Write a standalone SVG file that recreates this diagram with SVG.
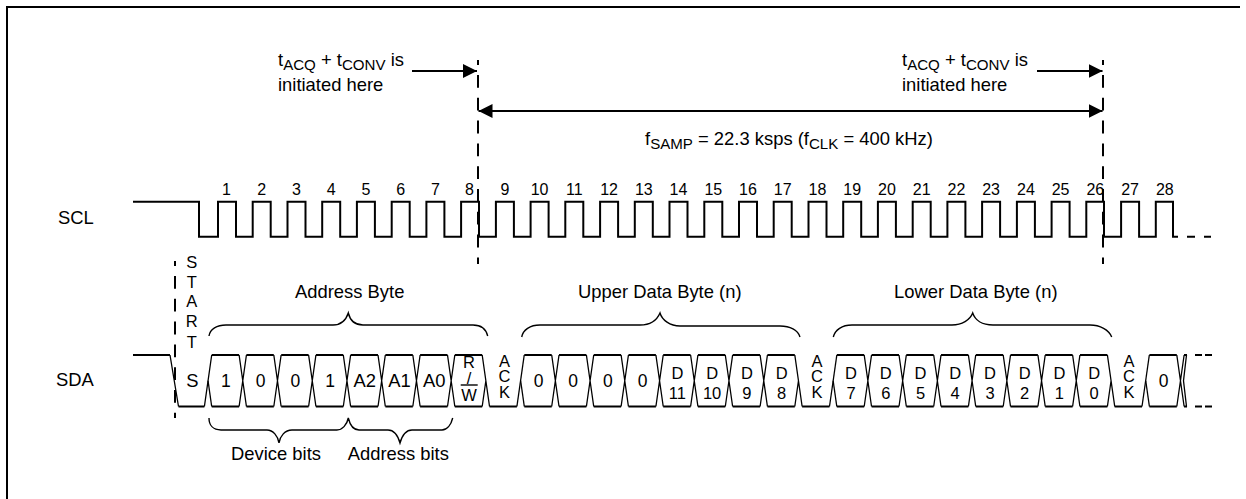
<svg xmlns="http://www.w3.org/2000/svg" width="1246" height="499" viewBox="0 0 1246 499">
<style>
text{font-family:"Liberation Sans",Arial,sans-serif;font-size:18.4px;fill:#000}
.m{text-anchor:middle}
.n{font-size:16px}
.l{font-size:16.5px}
.c{font-size:17.5px}
.w{fill:none;stroke:#000;stroke-width:2}
.t{fill:none;stroke:#000;stroke-width:1.3}
.b{fill:none;stroke:#000;stroke-width:1.4}
.d{fill:none;stroke:#000;stroke-width:2;stroke-dasharray:12.8 10;stroke-dashoffset:7.8}
.sub{font-size:15.1px}
</style>
<defs>
<marker id="ah" markerUnits="userSpaceOnUse" markerWidth="14" markerHeight="14" refX="14" refY="7" orient="auto-start-reverse"><path d="M0 0L14 7L0 14Z" fill="#000"/></marker>
<g id="cell"><path class="w" d="M0 0H27.4M0 51.5H27.4"/><path class="t" d="M27.4 0l7.33 51.5M27.4 51.5l7.33 -51.5"/></g>
<g id="cellEnd"><path class="w" d="M0 0H27.4M0 51.5H27.4"/><path class="t" d="M27.4 0l7.33 51.5M27.4 51.5l3.66 -25.75"/></g>
<path id="cellStart" class="t" d="M-3.66 25.75L0 51.5"/>
<g id="ack"><path class="w" d="M0 51.5H27.4"/><path class="t" d="M27.4 51.5l7.33 -51.5"/></g>
</defs>
<path id="frame" d="M1240 7H7V499" fill="none" stroke="#000" stroke-width="2"/>
<g id="connectors">
<path class="d" d="M478 60V264"/>
<path class="d" d="M1103 60V264"/>
<path class="d" d="M175 261V418"/>
<path class="w" d="M412 71H477" marker-end="url(#ah)"/>
<path class="w" d="M1037 71H1102.5" marker-end="url(#ah)"/>
<path class="w" d="M478.5 111H1102.5" marker-start="url(#ah)" marker-end="url(#ah)"/>
</g>
<g id="labels-top">
<text x="278" y="66">t<tspan class="sub" dy="4">ACQ</tspan><tspan dy="-4"> + t</tspan><tspan class="sub" dy="4">CONV</tspan><tspan dy="-4"> is</tspan></text>
<text x="278" y="90.5">initiated here</text>
<text x="902" y="66">t<tspan class="sub" dy="4">ACQ</tspan><tspan dy="-4"> + t</tspan><tspan class="sub" dy="4">CONV</tspan><tspan dy="-4"> is</tspan></text>
<text x="902" y="90.5">initiated here</text>
<text x="645" y="144.5">f<tspan class="sub" dy="4">SAMP</tspan><tspan dy="-4"> = 22.3 ksps (f</tspan><tspan class="sub" dy="4">CLK</tspan><tspan dy="-4"> = 400 kHz)</tspan></text>
</g>
<g id="scl">
<text x="58" y="224">SCL</text>
<path class="w" d="M133 201.7H199V236.7H218V201.7H236V236.7H252.7V201.7H270.7V236.7H287.5V201.7H305.5V236.7H322.2V201.7H340.2V236.7H356.9V201.7H374.9V236.7H391.7V201.7H409.7V236.7H426.4V201.7H444.4V236.7H461.1V201.7H479V236.7H495.9V201.7H513.9V236.7H530.6V201.7H548.6V236.7H565.3V201.7H583.3V236.7H600.1V201.7H618.1V236.7H634.8V201.7H652.8V236.7H669.5V201.7H687.5V236.7H704.3V201.7H722.3V236.7H739V201.7H757V236.7H773.7V201.7H791.7V236.7H808.5V201.7H826.5V236.7H843.2V201.7H861.2V236.7H877.9V201.7H895.9V236.7H912.7V201.7H930.7V236.7H947.4V201.7H965.4V236.7H982.1V201.7H1000.1V236.7H1016.9V201.7H1034.9V236.7H1051.6V201.7H1069.6V236.7H1086.3V201.7H1104V236.7H1121.1V201.7H1139.1V236.7H1155.8V201.7H1173V236.7H1178"/>
<path class="w" d="M1187 236.7H1195M1204 236.7H1211"/>
<text class="m n" x="226.5" y="195">1</text><text class="m n" x="261.7" y="195">2</text><text class="m n" x="296.5" y="195">3</text><text class="m n" x="331.2" y="195">4</text><text class="m n" x="365.9" y="195">5</text><text class="m n" x="400.7" y="195">6</text><text class="m n" x="435.4" y="195">7</text><text class="m n" x="469.5" y="195">8</text><text class="m n" x="504.9" y="195">9</text><text class="m n" x="539.6" y="195">10</text><text class="m n" x="574.3" y="195">11</text><text class="m n" x="609.1" y="195">12</text><text class="m n" x="643.8" y="195">13</text><text class="m n" x="678.5" y="195">14</text><text class="m n" x="713.3" y="195">15</text><text class="m n" x="748" y="195">16</text><text class="m n" x="782.7" y="195">17</text><text class="m n" x="817.5" y="195">18</text><text class="m n" x="852.2" y="195">19</text><text class="m n" x="886.9" y="195">20</text><text class="m n" x="921.7" y="195">21</text><text class="m n" x="956.4" y="195">22</text><text class="m n" x="991.1" y="195">23</text><text class="m n" x="1025.9" y="195">24</text><text class="m n" x="1060.6" y="195">25</text><text class="m n" x="1095.3" y="195">26</text><text class="m n" x="1130.1" y="195">27</text><text class="m n" x="1164.8" y="195">28</text>
</g>
<g id="start">
<text class="m l" x="191.7" y="268">S</text><text class="m l" x="191.7" y="287.5">T</text><text class="m l" x="191.7" y="307">A</text><text class="m l" x="191.7" y="327">R</text><text class="m l" x="191.7" y="347.5">T</text>
</g>
<g id="sda">
<text x="56" y="386">SDA</text>
<path class="w" d="M133 355H170M178.5 406.5H204.4"/>
<path class="t" d="M170 355L178.5 406.5M204.4 406.5L211.7 355"/>
<use href="#cellStart" x="211.7" y="355"/>
<use href="#cell" x="211.7" y="355"/><use href="#cell" x="246.4" y="355"/><use href="#cell" x="281.2" y="355"/><use href="#cell" x="315.9" y="355"/><use href="#cell" x="350.6" y="355"/><use href="#cell" x="385.4" y="355"/><use href="#cell" x="420.1" y="355"/><use href="#cellEnd" x="454.8" y="355"/>
<use href="#ack" x="489.5" y="355"/>
<use href="#cellStart" x="524.3" y="355"/>
<use href="#cell" x="524.3" y="355"/><use href="#cell" x="559" y="355"/><use href="#cell" x="593.7" y="355"/><use href="#cell" x="628.5" y="355"/><use href="#cell" x="663.2" y="355"/><use href="#cell" x="697.9" y="355"/><use href="#cell" x="732.7" y="355"/><use href="#cellEnd" x="767.4" y="355"/>
<use href="#ack" x="802.1" y="355"/>
<use href="#cellStart" x="836.8" y="355"/>
<use href="#cell" x="836.8" y="355"/><use href="#cell" x="871.6" y="355"/><use href="#cell" x="906.3" y="355"/><use href="#cell" x="941" y="355"/><use href="#cell" x="975.8" y="355"/><use href="#cell" x="1010.5" y="355"/><use href="#cell" x="1045.2" y="355"/><use href="#cellEnd" x="1080" y="355"/>
<use href="#ack" x="1114.6" y="355"/>
<use href="#cellStart" x="1149.4" y="355"/>
<use href="#cell" x="1149.4" y="355"/>
<path class="t" d="M1186.5 355L1183.5 380.75L1186.5 406.5"/>
<path class="w" d="M1184 355H1187M1184 406.5H1187M1195 355H1202M1205 355H1212M1195 406.5H1202M1205 406.5H1212"/>
<path class="b" d="M460.7 385H477.7"/>
<text class="m" x="192.3" y="386.5">S</text>
<text class="m c" x="225.9" y="387">1</text><text class="m c" x="260.6" y="387">0</text><text class="m c" x="295.4" y="387">0</text><text class="m c" x="330.1" y="387">1</text>
<text class="m" x="364.8" y="387">A2</text><text class="m" x="399.6" y="387">A1</text><text class="m" x="434.3" y="387">A0</text>
<text class="m l" x="469" y="368">R</text><text class="m l" x="469" y="384">/</text><text class="m l" x="469" y="400.5">W</text>
<text class="m l" x="504.5" y="366.5">A</text><text class="m l" x="504.5" y="382">C</text><text class="m l" x="504.5" y="398">K</text>
<text class="m c" x="538.5" y="387">0</text><text class="m c" x="573.2" y="387">0</text><text class="m c" x="607.9" y="387">0</text><text class="m c" x="642.7" y="387">0</text>
<text class="m l" x="677.4" y="378.5">D</text><text class="m l" x="677.4" y="398.5">11</text>
<text class="m l" x="712.1" y="378.5">D</text><text class="m l" x="712.1" y="398.5">10</text>
<text class="m l" x="746.9" y="378.5">D</text><text class="m l" x="746.9" y="398.5">9</text>
<text class="m l" x="781.6" y="378.5">D</text><text class="m l" x="781.6" y="398.5">8</text>
<text class="m l" x="817" y="366.5">A</text><text class="m l" x="817" y="382">C</text><text class="m l" x="817" y="398">K</text>
<text class="m l" x="851" y="378.5">D</text><text class="m l" x="851" y="398.5">7</text>
<text class="m l" x="885.8" y="378.5">D</text><text class="m l" x="885.8" y="398.5">6</text>
<text class="m l" x="920.5" y="378.5">D</text><text class="m l" x="920.5" y="398.5">5</text>
<text class="m l" x="955.2" y="378.5">D</text><text class="m l" x="955.2" y="398.5">4</text>
<text class="m l" x="990" y="378.5">D</text><text class="m l" x="990" y="398.5">3</text>
<text class="m l" x="1024.7" y="378.5">D</text><text class="m l" x="1024.7" y="398.5">2</text>
<text class="m l" x="1059.4" y="378.5">D</text><text class="m l" x="1059.4" y="398.5">1</text>
<text class="m l" x="1094.2" y="378.5">D</text><text class="m l" x="1094.2" y="398.5">0</text>
<text class="m l" x="1129" y="366.5">A</text><text class="m l" x="1129" y="382">C</text><text class="m l" x="1129" y="398">K</text>
<text class="m c" x="1163.6" y="387">0</text>
</g>
<g id="braces">
<path class="b" d="M209 336C210 329 217 325 226 325H333C341 325 346 320 348.3 313C350 320 355 325 363 325H473C481 325 486 329 487.7 336"/>
<path class="b" d="M521.7 337C523 330 530 325 540 325H640C650 325 657 320 660 313C662 320 670 326 680 326H780C790 326 798 330 800 337"/>
<path class="b" d="M833.3 337C835 330 842 325 852 325H952C962 325 970 320 972.7 313C975 320 982 325 993 325H1090C1100 325 1109 330 1111.7 337"/>
<path class="b" d="M209 418C209 425 213 430 221 430H267C273 430 278 436 279 443C280 436 285 430 292 430H337C342 430 347 425 348.3 418C350 425 353 430 359 430H388C394 430 398 436 400 443C402 436 406 430 412 430H442C447 430 451 425 452.7 418"/>
<text x="295" y="298">Address Byte</text>
<text x="578" y="298">Upper Data Byte (n)</text>
<text x="894" y="298">Lower Data Byte (n)</text>
<text x="231" y="460">Device bits</text>
<text x="347.7" y="460">Address bits</text>
</g>
</svg>
